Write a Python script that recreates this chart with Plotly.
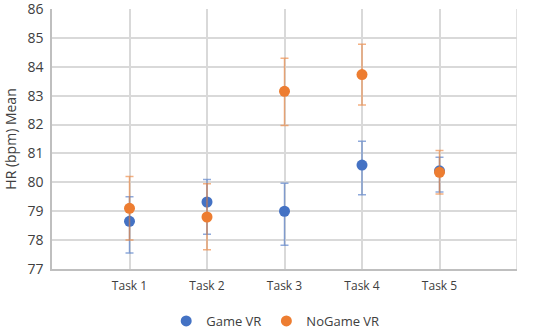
import plotly.graph_objects as go

tasks = ["Task 1", "Task 2", "Task 3", "Task 4", "Task 5"]
task_pos = [1, 2, 3, 4, 5]

game_mean = [78.65, 79.32, 79.0, 80.6, 80.4]
game_up = [0.85, 0.78, 0.97, 0.82, 0.47]
game_down = [1.1, 1.12, 1.18, 1.03, 0.73]

nogame_mean = [79.1, 78.8, 83.15, 83.73, 80.35]
nogame_up = [1.1, 1.15, 1.15, 1.05, 0.75]
nogame_down = [1.1, 1.13, 1.18, 1.05, 0.75]

y_ticks = [77, 78, 79, 80, 81, 82, 83, 84, 85, 86]

blue = "#4472C4"
orange = "#ED7D31"

fig = go.Figure()
fig.add_trace(go.Scatter(
    x=task_pos, y=game_mean, mode="markers", name="Game VR",
    marker=dict(color=blue, size=11),
    error_y=dict(type="data", symmetric=False, array=game_up, arrayminus=game_down,
                 color="rgba(68,114,196,0.6)", thickness=1.5, width=4),
))
fig.add_trace(go.Scatter(
    x=task_pos, y=nogame_mean, mode="markers", name="NoGame VR",
    marker=dict(color=orange, size=11),
    error_y=dict(type="data", symmetric=False, array=nogame_up, arrayminus=nogame_down,
                 color="rgba(237,125,49,0.6)", thickness=1.5, width=4),
))

fig.update_layout(
    width=550, height=334,
    margin=dict(l=52, r=33, t=9, b=65, autoexpand=False),
    paper_bgcolor="white", plot_bgcolor="white",
    font=dict(family="Open Sans", color="#404040"),
    showlegend=True,
    legend=dict(orientation="h", x=0.48, xanchor="center", y=-0.2, yanchor="middle",
                font=dict(size=13, color="#404040"), itemwidth=30, tracegroupgap=0),
    xaxis=dict(range=[0, 6], tickvals=task_pos, ticktext=tasks, automargin=False,
               showgrid=True, gridcolor="#D9D9D9", gridwidth=1.5,
               showline=True, linecolor="#BFBFBF", linewidth=1.5, ticklabelstandoff=5,
               zeroline=False, tickfont=dict(size=12, color="#404040"), ticks=""),
    yaxis=dict(range=[77, 86.002], tickvals=y_ticks, ticktext=[str(v) for v in y_ticks],
               automargin=False, ticklabeloverflow="allow",
               showgrid=True, gridcolor="#D9D9D9", gridwidth=1.5,
               showline=True, linecolor="#BFBFBF", linewidth=1.5, zeroline=False,
               tickfont=dict(size=14, color="#404040"), ticks="", ticklabelstandoff=4,
               title=dict(text="HR (bpm) Mean", font=dict(size=14, color="#404040"), standoff=8)),
)
fig.add_shape(type="line", xref="x", yref="paper", x0=6, x1=6, y0=0, y1=1,
              line=dict(color="#D9D9D9", width=1.5), layer="below")

fig.write_html("out.html", config={"displayModeBar": False},
               post_script="document.body.style.margin='0';document.body.style.padding='0';")
